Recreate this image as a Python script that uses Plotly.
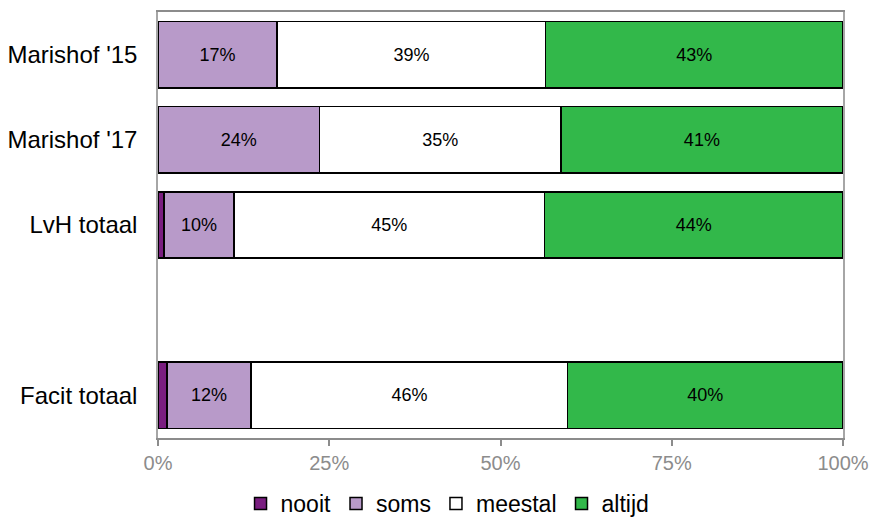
import plotly.graph_objects as go

categories = ["Marishof '15", "Marishof '17", "LvH totaal", " ", "Facit totaal"]
nooit = [0.0, 0.0, 0.9, None, 1.3]
soms = [17.4, 23.6, 10.2, None, 12.3]
meestal = [39.2, 35.2, 45.3, None, 46.2]
altijd = [43.4, 41.2, 43.6, None, 40.2]

series_names = ["nooit", "soms", "meestal", "altijd"]
series_values = [nooit, soms, meestal, altijd]
series_colors = ["#7A1E80", "#B89AC9", "#FFFFFF", "#32B84A"]
show_labels = [False, True, True, True]

tick_vals = [0, 25, 50, 75, 100]
tick_text = ["0%", "25%", "50%", "75%", "100%"]

fig = go.Figure()
for name, vals, col, lab in zip(series_names, series_values, series_colors, show_labels):
    fig.add_trace(go.Bar(
        name=name,
        y=categories,
        x=vals,
        orientation="h",
        marker=dict(color=col, line=dict(color="#000000", width=1.5)),
        texttemplate="%{x:.0f}%" if lab else None,
        textposition="inside" if lab else "none",
        insidetextanchor="middle",
        textangle=0,
        textfont=dict(family="Liberation Sans, Arial", size=18, color="#000000"),
        hoverinfo="skip",
    ))

fig.update_layout(
    barmode="stack",
    bargap=0.22,
    width=869,
    height=525,
    margin=dict(l=158, r=26, t=12, b=87, autoexpand=False),
    plot_bgcolor="#FFFFFF",
    paper_bgcolor="#FFFFFF",
    font=dict(family="Liberation Sans, Arial", color="#000000"),
    uniformtext=dict(minsize=10, mode="show"),
    legend=dict(
        orientation="h",
        xref="container", x=0.515, xanchor="center",
        yref="container", y=0.0, yanchor="bottom",
        font=dict(size=23, color="#000000"),
        traceorder="normal",
        itemwidth=30,
        borderwidth=0,
    ),
    xaxis=dict(
        range=[0, 100],
        tickvals=tick_vals,
        ticktext=tick_text,
        ticks="outside",
        ticklen=6,
        tickwidth=1.5,
        tickcolor="#8C8C8C",
        showgrid=False,
        zeroline=False,
        showline=True,
        linecolor="#8C8C8C",
        linewidth=1.5,
        mirror=True,
        automargin=False,
        ticklabeloverflow="allow",
        ticklabelstandoff=0,
        tickfont=dict(size=20, color="#8C8C8C"),
    ),
    yaxis=dict(
        type="category",
        categoryorder="array",
        categoryarray=categories,
        autorange="reversed",
        showgrid=False,
        zeroline=False,
        showline=True,
        linecolor="#A6A6A6",
        linewidth=1.5,
        mirror=True,
        automargin=False,
        ticks="",
        ticklabelstandoff=14,
        tickfont=dict(size=24, color="#000000"),
    ),
)

fig.write_html("out.html")
